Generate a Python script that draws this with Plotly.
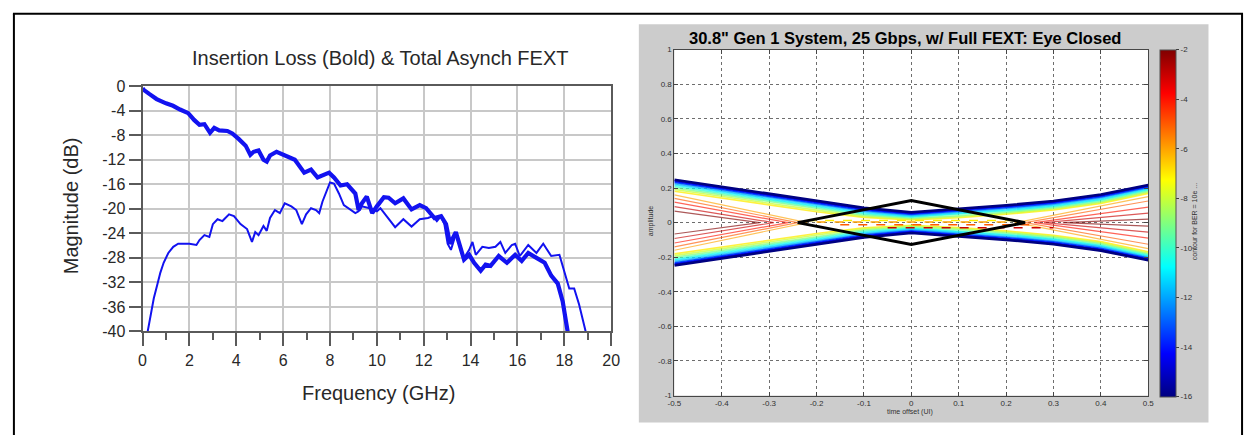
import plotly.graph_objects as go
from plotly.colors import sample_colorscale

# ---------------- data: left chart ----------------
IL_F = [0.0, 0.05, 0.3, 0.6, 1.0, 1.3, 1.6, 1.95, 2.2, 2.43, 2.64, 2.88, 3.06, 3.27, 3.62, 3.83, 4.1, 4.4, 4.6, 4.74,
        4.95, 5.16, 5.3, 5.44, 5.72, 6.07, 6.5, 6.9, 7.19, 7.47, 7.75, 7.96, 8.17, 8.45, 8.73, 9.08, 9.22, 9.36, 9.57, 9.8,
        10.0, 10.3, 10.5, 10.78, 11.13, 11.48, 11.83, 12.1, 12.46, 12.74, 12.95, 13.12, 13.37, 13.58, 13.72, 13.94, 14.15,
        14.43, 14.64, 14.85, 15.2, 15.55, 15.9, 16.18, 16.46, 16.81, 17.16, 17.44, 17.72, 17.93, 18.14]
IL_DB = [-0.3, -0.6, -1.3, -2.1, -2.8, -3.2, -3.8, -4.4, -5.5, -6.3, -6.2, -7.6, -6.8, -7.2, -7.3, -7.7, -8.6, -9.7, -11.2, -10.7,
         -10.5, -12.0, -12.3, -11.3, -10.7, -11.3, -12.0, -14.1, -13.6, -14.9, -14.4, -14.1, -14.9, -16.2, -16.0, -17.5, -20.2, -19.1, -18.0, -20.7,
         -19.6, -18.1, -18.2, -19.1, -18.3, -20.1, -19.4, -19.9, -21.5, -21.2, -22.5, -25.7, -23.8, -26.2, -28.3, -27.5, -28.8,
         -30.1, -29.1, -29.3, -27.7, -28.8, -27.5, -28.5, -27.2, -28.0, -28.8, -30.9, -32.2, -35.1, -40.0]

FX_F = [0.22, 0.34, 0.48, 0.62, 0.76, 0.9, 1.1, 1.31, 1.52, 2.0, 2.3, 2.43, 2.64, 2.85, 3.0, 3.2, 3.41, 3.69, 3.9, 4.18,
        4.46, 4.67, 4.81, 4.95, 5.16, 5.3, 5.44, 5.65, 5.86, 6.07, 6.35, 6.56, 6.8, 6.98, 7.19, 7.4, 7.54, 7.68, 7.82, 8.0,
        8.17, 8.38, 8.59, 8.87, 9.08, 9.22, 9.36, 9.7, 10.0, 10.15, 10.43, 10.78, 11.13, 11.48, 11.83, 12.18, 12.39, 12.56, 12.74, 12.88,
        13.02, 13.16, 13.37, 13.58, 13.72, 13.94, 14.08, 14.22, 14.5, 14.78, 15.06, 15.27, 15.48, 15.76, 15.9, 16.1, 16.46, 16.81, 17.1, 17.44,
        17.79, 18.0, 18.21, 18.42, 18.63, 18.91]
FX_DB = [-40, -37.2, -34.6, -32.5, -30.4, -28.8, -27.2, -26.2, -25.7, -25.7, -25.9, -25.1, -24.3, -24.6, -22.5, -21.7, -22.0, -20.9, -21.2, -22.5,
         -23.3, -25.4, -23.8, -24.3, -22.8, -23.6, -21.5, -20.2, -20.7, -19.1, -19.6, -20.2, -22.5, -20.9, -19.9, -20.2, -20.7, -18.8, -17.3, -15.7,
         -15.9, -17.5, -19.4, -20.2, -20.7, -20.4, -19.6, -19.9, -20.4, -19.9, -21.2, -23.0, -21.7, -22.9, -21.7, -21.5, -21.2, -22.0, -21.2, -22.5,
         -25.7, -26.7, -24.1, -26.7, -28.0, -26.7, -25.4, -27.5, -26.2, -26.4, -26.2, -25.4, -27.2, -25.9, -25.7, -27.7, -25.9, -27.2, -25.7, -27.7,
         -27.5, -30.4, -33.0, -33.0, -35.6, -40]

LEFT_XTICKS = [0, 2, 4, 6, 8, 10, 12, 14, 16, 18, 20]
LEFT_YTICKS = [0, -4, -8, -12, -16, -20, -24, -28, -32, -36, -40]
LEFT_YTEXT = ["0", "-4", "-8", "-12", "-16", "-20", "-24", "-28", "-32", "-36", "-40"]

# ---------------- data: right chart (eye contours) ----------------
EYE_X = [-0.5, -0.4, -0.3, -0.2, -0.1, 0.0, 0.1, 0.2, 0.3, 0.4, 0.5]
# outer (band) contour levels, log10(BER), upper branch amplitude at EYE_X
BAND_LEVELS = [-16, -15, -14, -13, -12, -11, -10, -9, -8, -7]
BAND_UPPER = [
    [0.248, 0.207, 0.167, 0.127, 0.086, 0.060, 0.080, 0.100, 0.125, 0.162, 0.218],
    [0.243, 0.202, 0.162, 0.122, 0.081, 0.056, 0.076, 0.096, 0.121, 0.158, 0.214],
    [0.238, 0.197, 0.157, 0.117, 0.076, 0.052, 0.072, 0.092, 0.117, 0.154, 0.210],
    [0.232, 0.191, 0.151, 0.111, 0.070, 0.047, 0.066, 0.086, 0.111, 0.148, 0.205],
    [0.225, 0.184, 0.144, 0.104, 0.064, 0.042, 0.060, 0.080, 0.105, 0.142, 0.200],
    [0.217, 0.177, 0.137, 0.097, 0.057, 0.036, 0.053, 0.073, 0.098, 0.135, 0.194],
    [0.209, 0.169, 0.129, 0.089, 0.050, 0.031, 0.047, 0.067, 0.092, 0.129, 0.188],
    [0.200, 0.160, 0.120, 0.080, 0.043, 0.025, 0.040, 0.060, 0.085, 0.122, 0.182],
    [0.191, 0.151, 0.111, 0.072, 0.036, 0.020, 0.034, 0.054, 0.079, 0.116, 0.176],
    [0.181, 0.141, 0.101, 0.063, 0.030, 0.015, 0.028, 0.048, 0.073, 0.110, 0.169],
]
# high-BER contours: lenses around the crossing points at x = -0.5 and x = +0.5
LENS_LEVELS = [-6, -5, -4, -3, -2]
LENS_LEFT_EDGE = [0.160, 0.140, 0.118, 0.092, 0.066]
LENS_LEFT_TIP = [-0.22, -0.24, -0.26, -0.29, -0.32]
LENS_RIGHT_EDGE = [0.150, 0.125, 0.090, 0.055, 0.020]
LENS_RIGHT_TIP = [0.22, 0.24, 0.26, 0.28, 0.32]
# dashed contours in the middle of the closed eye
DASH_LEVELS = [-7, -6, -5, -3]
DASH_Y = [0.012, 0.004, -0.012, -0.03]
DASH_X0 = [-0.22, -0.2, -0.15, -0.05]
DASH_X1 = [0.22, 0.25, 0.25, 0.3]
# eye mask
MASK_X = [-0.24, 0.0, 0.24, 0.0, -0.24]
MASK_Y = [0.0, 0.127, 0.0, -0.127, 0.0]

RIGHT_XTICKS = [-0.5, -0.4, -0.3, -0.2, -0.1, 0.0, 0.1, 0.2, 0.3, 0.4, 0.5]
RIGHT_XTEXT = ["-0.5", "-0.4", "-0.3", "-0.2", "-0.1", "0", "0.1", "0.2", "0.3", "0.4", "0.5"]
RIGHT_YTICKS = [-1, -0.8, -0.6, -0.4, -0.2, 0, 0.2, 0.4, 0.6, 0.8, 1]
RIGHT_YTEXT = ["-1", "-0.8", "-0.6", "-0.4", "-0.2", "0", "0.2", "0.4", "0.6", "0.8", "1"]
CBAR_TICKS = [-16, -14, -12, -10, -8, -6, -4, -2]
CBAR_MIN, CBAR_MAX = -16, -2

# ---------------- layout helpers ----------------
W, H = 1255, 444
def fx(p):
    return p / W
def fy(p):
    return 1 - p / H

JET = [[0.0, "rgb(0,0,128)"], [0.125, "rgb(0,0,255)"], [0.375, "rgb(0,255,255)"],
       [0.625, "rgb(255,255,0)"], [0.875, "rgb(255,0,0)"], [1.0, "rgb(128,0,0)"]]
def jet(level):
    t = (level - CBAR_MIN) / (CBAR_MAX - CBAR_MIN)
    return sample_colorscale(JET, [min(max(t, 0), 1)])[0]

BLUE = "rgb(18,18,240)"
FONT = "Liberation Sans, Arial, sans-serif"

fig = go.Figure()

# left chart
fig.add_trace(go.Scatter(x=FX_F, y=FX_DB, mode="lines", line=dict(color=BLUE, width=2),
                         xaxis="x", yaxis="y", showlegend=False))
fig.add_trace(go.Scatter(x=IL_F, y=IL_DB, mode="lines", line=dict(color=BLUE, width=4.2),
                         xaxis="x", yaxis="y", showlegend=False))

# right chart: contours (drawn from the lightest level outward so the blue edge stays on top)
for lev, up in reversed(list(zip(BAND_LEVELS, BAND_UPPER))):
    c = jet(lev)
    w = 2.6 if lev == BAND_LEVELS[0] else 1.6
    op = 1.0 if lev <= -13 else 0.75
    fig.add_trace(go.Scatter(x=EYE_X, y=up, mode="lines", line=dict(color=c, width=w), opacity=op,
                             xaxis="x2", yaxis="y2", showlegend=False))
    fig.add_trace(go.Scatter(x=EYE_X, y=[-v for v in up], mode="lines", line=dict(color=c, width=w), opacity=op,
                             xaxis="x2", yaxis="y2", showlegend=False))
for lev, le, lt, re_, rt in zip(LENS_LEVELS, LENS_LEFT_EDGE, LENS_LEFT_TIP, LENS_RIGHT_EDGE, LENS_RIGHT_TIP):
    c = jet(lev)
    fig.add_trace(go.Scatter(x=[-0.5, lt, -0.5], y=[le, 0, -le], mode="lines", line=dict(color=c, width=1.2),
                             opacity=0.65, xaxis="x2", yaxis="y2", showlegend=False))
    fig.add_trace(go.Scatter(x=[0.5, rt, 0.5], y=[re_, 0, -re_], mode="lines", line=dict(color=c, width=1.2),
                             opacity=0.65, xaxis="x2", yaxis="y2", showlegend=False))
for lev, yv, x0, x1 in zip(DASH_LEVELS, DASH_Y, DASH_X0, DASH_X1):
    fig.add_trace(go.Scatter(x=[x0, x1], y=[yv, yv], mode="lines", line=dict(color=jet(lev), width=1.5, dash="dash"),
                             xaxis="x2", yaxis="y2", showlegend=False))
fig.add_trace(go.Scatter(x=MASK_X, y=MASK_Y, mode="lines", line=dict(color="black", width=3),
                         xaxis="x2", yaxis="y2", showlegend=False))

# colorbar carrier
cbar = dict(x=fx(1168), xanchor="left", xpad=0, ypad=0,
            y=fy(43.3), yanchor="top", len=(404 - 43.3) / H, lenmode="fraction",
            thickness=16, thicknessmode="pixels",
            outlinewidth=1, outlinecolor="rgb(80,80,80)",
            tickvals=CBAR_TICKS, ticktext=[str(v) for v in CBAR_TICKS],
            ticks="outside", ticklen=3, tickcolor="rgb(60,60,60)",
            tickfont=dict(family=FONT, size=8, color="rgb(50,50,50)"))
fig.add_trace(go.Scatter(x=[None], y=[None], mode="markers", xaxis="x2", yaxis="y2", showlegend=False,
                         marker=dict(color=[CBAR_MIN], cmin=CBAR_MIN, cmax=CBAR_MAX, colorscale=JET,
                                     showscale=True, colorbar=cbar)))

shapes = [
    # gray MATLAB figure panel + white axes area
    dict(type="rect", xref="paper", yref="paper", x0=fx(640), x1=fx(1217), y0=fy(431), y1=fy(17),
         fillcolor="rgb(204,204,204)", line=dict(width=0), layer="below"),
    dict(type="rect", xref="paper", yref="paper", x0=fx(676), x1=fx(1156), y0=fy(403), y1=fy(43.3),
         fillcolor="white", line=dict(width=0), layer="below"),
    # outer frame (kept inside the page)
    dict(type="line", xref="paper", yref="paper", x0=fx(7), x1=fx(7), y0=fy(6), y1=0, line=dict(color="black", width=2)),
    dict(type="line", xref="paper", yref="paper", x0=fx(1251), x1=fx(1251), y0=fy(6), y1=0, line=dict(color="black", width=2)),
    dict(type="line", xref="paper", yref="paper", x0=fx(6), x1=fx(1252), y0=fy(6), y1=fy(6), line=dict(color="black", width=2)),
]

def ann(text, x, y, size, color="rgb(40,40,40)", angle=0):
    return dict(text=text, x=fx(x), y=fy(y), xref="paper", yref="paper", xanchor="center", yanchor="middle",
                showarrow=False, textangle=angle, font=dict(family=FONT, size=size, color=color))

annotations = [
    ann("Insertion Loss (Bold) & Total Asynch FEXT", 378, 52, 20),
    ann("Frequency (GHz)", 376, 400, 20),
    ann("Magnitude (dB)", 65, 206, 20, angle=-90),
    ann("<b>30.8\" Gen 1 System, 25 Gbps, w/ Full FEXT: Eye Closed</b>", 910, 31, 16.5, color="black"),
    ann("time offset (UI)", 915, 420, 7, color="rgb(50,50,50)"),
    ann("amplitude", 652, 222, 7, color="rgb(50,50,50)", angle=-90),
    ann("contour for BER = 10e ...", 1203, 222, 7, color="rgb(50,50,50)", angle=-90),
]

AX_GRAY = "rgb(90,90,90)"
fig.update_layout(
    width=W, height=H, autosize=False,
    margin=dict(l=0, r=0, t=0, b=0),
    paper_bgcolor="white", plot_bgcolor="white",
    showlegend=False,
    font=dict(family=FONT),
    shapes=shapes, annotations=annotations,
    xaxis=dict(domain=[fx(137.3), fx(612)], range=[0, 20], tickvals=LEFT_XTICKS, ticktext=[str(v) for v in LEFT_XTICKS],
               showgrid=True, gridcolor="rgb(200,200,200)", gridwidth=1.5, zeroline=False,
               showline=True, mirror=True, linecolor=AX_GRAY, linewidth=2,
               ticks="outside", ticklen=13, tickwidth=2, tickcolor=AX_GRAY,
               minor=dict(tickvals=[1, 3, 5, 7, 9, 11, 13, 15, 17, 19], ticks="outside", ticklen=7, tickwidth=2,
                          tickcolor=AX_GRAY, showgrid=False),
               tickfont=dict(family=FONT, size=16, color="rgb(40,40,40)"), fixedrange=True),
    yaxis=dict(domain=[fy(336.3), fy(81.3)], range=[-40, 0], tickvals=LEFT_YTICKS, ticktext=LEFT_YTEXT,
               showgrid=True, gridcolor="rgb(200,200,200)", gridwidth=1.5, zeroline=False,
               showline=True, mirror=True, linecolor=AX_GRAY, linewidth=2,
               ticks="outside", ticklen=12, tickwidth=2, tickcolor=AX_GRAY,
               tickfont=dict(family=FONT, size=16, color="rgb(40,40,40)"), fixedrange=True),
    xaxis2=dict(domain=[fx(676), fx(1156)], range=[-0.5, 0.5], anchor="y2",
                tickvals=RIGHT_XTICKS, ticktext=RIGHT_XTEXT,
                showgrid=True, gridcolor="rgb(110,110,110)", gridwidth=1, griddash="dot", zeroline=False,
                showline=True, mirror="ticks", linecolor="rgb(70,70,70)", linewidth=1,
                ticks="inside", ticklen=4, tickcolor="rgb(70,70,70)",
                tickfont=dict(family=FONT, size=8, color="rgb(50,50,50)"), fixedrange=True),
    yaxis2=dict(domain=[fy(403), fy(43.3)], range=[-1, 1], anchor="x2",
                tickvals=RIGHT_YTICKS, ticktext=RIGHT_YTEXT,
                showgrid=True, gridcolor="rgb(110,110,110)", gridwidth=1, griddash="dot", zeroline=False,
                showline=True, mirror="ticks", linecolor="rgb(70,70,70)", linewidth=1,
                ticks="inside", ticklen=4, tickcolor="rgb(70,70,70)",
                tickfont=dict(family=FONT, size=8, color="rgb(50,50,50)"), fixedrange=True),
)

fig.write_html("out.html", config={"displayModeBar": False},
               post_script="document.body.style.margin='0';")
